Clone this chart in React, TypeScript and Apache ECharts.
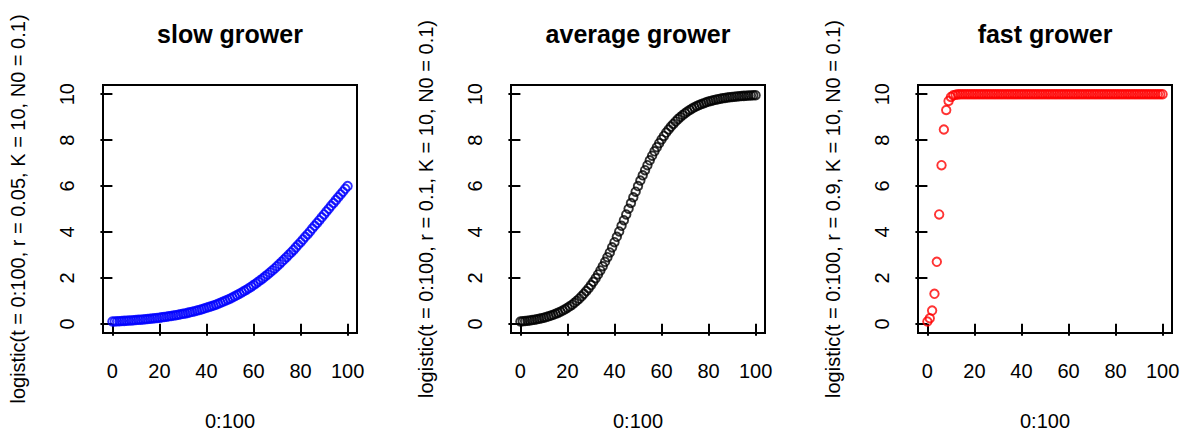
import React, { useEffect, useRef } from "react";
import * as echarts from "echarts";

const tValues: number[] = Array.from({ length: 101 }, (_, i) => i);

const slowValues: number[] = [
  0.1, 0.1051, 0.1104, 0.116, 0.1219, 0.128, 0.1345, 0.1413, 0.1484, 0.1559,
  0.1638, 0.1721, 0.1807, 0.1898, 0.1994, 0.2094, 0.2199, 0.2309, 0.2424, 0.2545,
  0.2672, 0.2806, 0.2945, 0.3092, 0.3245, 0.3406, 0.3574, 0.375, 0.3935, 0.4128,
  0.4331, 0.4543, 0.4765, 0.4997, 0.524, 0.5493, 0.5759, 0.6036, 0.6326, 0.6629,
  0.6945, 0.7275, 0.762, 0.798, 0.8355, 0.8745, 0.9153, 0.9577, 1.0019, 1.0479,
  1.0957, 1.1455, 1.1972, 1.2509, 1.3066, 1.3645, 1.4245, 1.4866, 1.551, 1.6177,
  1.6866, 1.7579, 1.8316, 1.9075, 1.9859, 2.0667, 2.1499, 2.2355, 2.3234, 2.4138,
  2.5066, 2.6016, 2.699, 2.7987, 2.9006, 3.0046, 3.1107, 3.2189, 3.3289, 3.4409,
  3.5546, 3.67, 3.7869, 3.9052, 4.0248, 4.1457, 4.2675, 4.3903, 4.5137, 4.6378,
  4.7624, 4.8872, 5.0122, 5.1372, 5.262, 5.3864, 5.5104, 5.6338, 5.7564, 5.878,
  5.9986,
];

const averageValues: number[] = [
  0.1, 0.1104, 0.1219, 0.1345, 0.1484, 0.1638, 0.1807, 0.1994, 0.2199, 0.2424,
  0.2672, 0.2945, 0.3245, 0.3574, 0.3935, 0.4331, 0.4765, 0.524, 0.5759, 0.6326,
  0.6945, 0.762, 0.8355, 0.9153, 1.0019, 1.0957, 1.1972, 1.3066, 1.4245, 1.551,
  1.6866, 1.8316, 1.9859, 2.1499, 2.3234, 2.5066, 2.699, 2.9006, 3.1107, 3.3289,
  3.5546, 3.7869, 4.0248, 4.2675, 4.5137, 4.7624, 5.0122, 5.262, 5.5104, 5.7564,
  5.9986, 6.2361, 6.4677, 6.6927, 6.9102, 7.1195, 7.3202, 7.5117, 7.6939, 7.8665,
  8.0296, 8.183, 8.327, 8.4617, 8.5874, 8.7044, 8.8131, 8.9138, 9.0069, 9.0928,
  9.172, 9.2448, 9.3117, 9.3731, 9.4294, 9.4809, 9.5279, 9.5709, 9.6102, 9.646,
  9.6786, 9.7083, 9.7353, 9.7599, 9.7822, 9.8025, 9.821, 9.8378, 9.853, 9.8668,
  9.8793, 9.8907, 9.901, 9.9103, 9.9188, 9.9264, 9.9334, 9.9397, 9.9454, 9.9506,
  9.9553,
];

const fastValues: number[] = [
  0.1, 0.2424, 0.5759, 1.3066, 2.699, 4.7624, 6.9102, 8.4617, 9.3117, 9.7083,
  9.8793, 9.9506, 9.9798, 9.9918, 9.9967, 9.9986, 9.9994, 9.9998, 9.9999, 10,
  10, 10, 10, 10, 10, 10, 10, 10, 10, 10,
  10, 10, 10, 10, 10, 10, 10, 10, 10, 10,
  10, 10, 10, 10, 10, 10, 10, 10, 10, 10,
  10, 10, 10, 10, 10, 10, 10, 10, 10, 10,
  10, 10, 10, 10, 10, 10, 10, 10, 10, 10,
  10, 10, 10, 10, 10, 10, 10, 10, 10, 10,
  10, 10, 10, 10, 10, 10, 10, 10, 10, 10,
  10, 10, 10, 10, 10, 10, 10, 10, 10, 10,
  10,
];

const panelTitles: string[] = ["slow grower", "average grower", "fast grower"];
const yTitles: string[] = [
  "logistic(t = 0:100, r = 0.05, K = 10, N0 = 0.1)",
  "logistic(t = 0:100, r = 0.1, K = 10, N0 = 0.1)",
  "logistic(t = 0:100, r = 0.9, K = 10, N0 = 0.1)",
];
const xTitle = "0:100";
const xTicks: number[] = [0, 20, 40, 60, 80, 100];
const yTicks: number[] = [0, 2, 4, 6, 8, 10];
const seriesColors: string[] = ["#0000FF", "#000000", "#FF0000"];
const allValues: number[][] = [slowValues, averageValues, fastValues];

const FONT = "'Liberation Sans', Arial, Helvetica, sans-serif";
const gridLefts = [103, 511, 918];
const gridWidth = 254;
const gridTop = 85;
const gridHeight = 254;

export default function App() {
  const ref = useRef<HTMLDivElement>(null);
  useEffect(() => {
    if (!ref.current) return;
    const chart = echarts.init(ref.current, null, { renderer: "svg" });
    const option: any = {
      animation: false,
      backgroundColor: "#ffffff",
      title: panelTitles.map((t, i) => ({
        text: t,
        left: gridLefts[i] + gridWidth / 2,
        textAlign: "center",
        top: 21,
        padding: 0,
        textStyle: { fontFamily: FONT, fontSize: 25, fontWeight: "bold", color: "#000" },
      })),
      grid: gridLefts.map((l) => ({
        left: l,
        top: gridTop,
        width: gridWidth,
        height: gridHeight,
        show: true,
        borderColor: "#000",
        borderWidth: 2,
        backgroundColor: "transparent",
      })),
      xAxis: gridLefts.map((_, i) => ({
        type: "value",
        gridIndex: i,
        min: -4,
        max: 104,
        name: xTitle,
        nameLocation: "middle",
        nameGap: 78,
        nameTextStyle: { fontFamily: FONT, fontSize: 20, color: "#000" },
        splitLine: { show: false },
        axisLine: { show: false },
        axisTick: {
          show: true,
          length: 12,
          customValues: xTicks,
          lineStyle: { color: "#000", width: 2 },
        },
        axisLabel: {
          customValues: xTicks,
          margin: 28,
          fontFamily: FONT,
          fontSize: 20,
          color: "#000",
        },
      })),
      yAxis: gridLefts.map((_, i) => ({
        type: "value",
        gridIndex: i,
        min: -0.4,
        max: 10.4,
        name: yTitles[i],
        nameLocation: "middle",
        nameRotate: 90,
        nameGap: 75,
        nameTextStyle: { fontFamily: FONT, fontSize: 20, color: "#000" },
        splitLine: { show: false },
        axisLine: { show: false },
        axisTick: {
          show: true,
          length: 12,
          customValues: yTicks,
          lineStyle: { color: "#000", width: 2 },
        },
        axisLabel: {
          customValues: yTicks,
          rotate: 90,
          margin: 26,
          fontFamily: FONT,
          fontSize: 20,
          color: "#000",
        },
      })),
      series: allValues.map((vals, i) => ({
        type: "scatter",
        xAxisIndex: i,
        yAxisIndex: i,
        symbol: "circle",
        symbolSize: 8.5,
        data: tValues.map((t, j) => [t, vals[j]]),
        itemStyle: {
          color: "rgba(0,0,0,0)",
          borderColor: seriesColors[i],
          borderWidth: 1.9,
        },
      })),
    };
    chart.setOption(option);
    return () => chart.dispose();
  }, []);
  return (
    <div
      ref={ref}
      style={{ position: "absolute", left: 0, top: 0, width: 1186, height: 436 }}
    />
  );
}
